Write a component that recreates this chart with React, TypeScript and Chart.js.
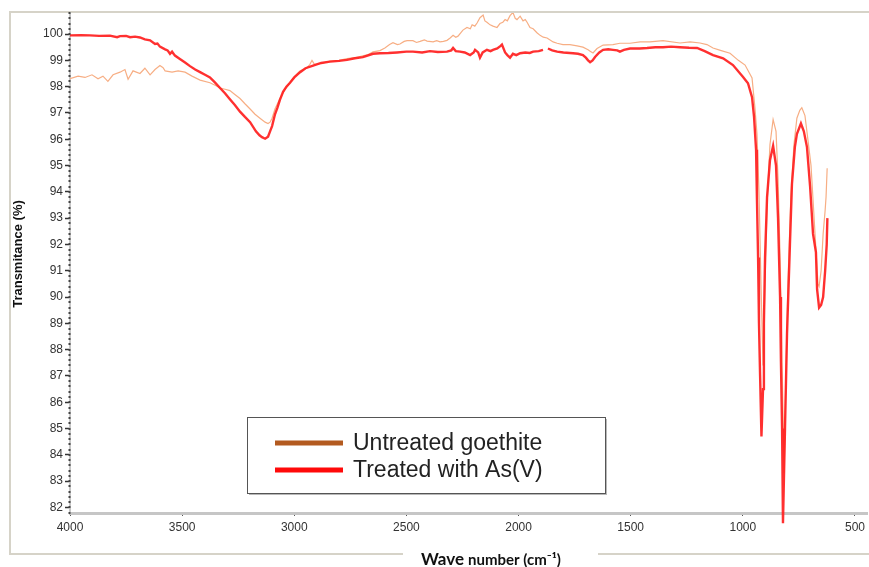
import React, { useEffect, useRef } from "react";
import { Chart, registerables } from "chart.js";

Chart.register(...registerables);

const xTicks = [4000, 3500, 3000, 2500, 2000, 1500, 1000, 500];
const yTicks = [82, 83, 84, 85, 86, 87, 88, 89, 90, 91, 92, 93, 94, 95, 96, 97, 98, 99, 100];
const seriesLabels = ["Untreated goethite", "Treated with As(V)"];
const xTitleMain = "Wave";
const xTitleRest = "number (cm⁻¹)";
const yTitle = "Transmitance (%)";

const untreatedWn = [
  4000, 3964, 3933, 3902, 3875, 3853, 3831, 3808, 3777, 3755, 3741, 3719, 3688, 3666, 3643, 3621, 3599, 3585,
  3576, 3545, 3518, 3487, 3456, 3420, 3376, 3353, 3331, 3309, 3287, 3265, 3242, 3220, 3197, 3175, 3153, 3130,
  3117, 3108, 3099, 3086, 3064, 3041, 3019, 2997, 2974, 2945, 2930, 2921, 2910, 2885, 2841, 2800, 2765, 2730,
  2694, 2670, 2649, 2618, 2596, 2575, 2560, 2540, 2529, 2510, 2497, 2471, 2455, 2439, 2420, 2408, 2381, 2365,
  2350, 2335, 2319, 2305, 2292, 2280, 2270, 2248, 2230, 2215, 2207, 2195, 2185, 2172, 2158, 2150, 2141, 2127,
  2114, 2096, 2083, 2070, 2060, 2050, 2038, 2025, 2015, 2007, 1993, 1980, 1970, 1962, 1949, 1935, 1918, 1904,
  1890, 1873, 1846, 1828, 1802, 1771, 1739, 1713, 1690, 1681, 1668, 1650, 1623, 1579, 1548, 1503, 1458, 1414,
  1356, 1280, 1235, 1191, 1160, 1133, 1100, 1057, 1020, 990, 959, 946, 937, 928, 919, 910, 901, 892, 879, 865,
  852, 843, 834, 825, 816, 808, 799, 786, 772, 759, 746, 737, 723, 710, 696, 687, 674, 665, 660, 651, 642, 633,
  629, 624,
];
const untreatedT = [
  98.3, 98.4, 98.35, 98.45, 98.3, 98.4, 98.2, 98.45, 98.55, 98.65, 98.28, 98.6, 98.5, 98.7, 98.45, 98.65, 98.8, 98.72,
  98.6, 98.55, 98.6, 98.55, 98.4, 98.25, 98.15, 98.05, 97.95, 97.9, 97.85, 97.7, 97.55, 97.35, 97.15, 96.95, 96.8, 96.65,
  96.6, 96.65, 96.8, 97.15, 97.55, 97.9, 98.15, 98.4, 98.6, 98.7, 98.85, 99.0, 98.85, 98.87, 98.97, 99.0, 99.07, 99.1,
  99.17, 99.22, 99.32, 99.37, 99.47, 99.6, 99.67, 99.6, 99.62, 99.72, 99.75, 99.75, 99.68, 99.72, 99.78, 99.73, 99.7, 99.75,
  99.7, 99.72, 99.76, 99.85, 99.95, 99.88, 99.92, 100.15, 100.25, 100.2, 100.35, 100.3, 100.42, 100.62, 100.72, 100.5, 100.45, 100.35,
  100.3, 100.25, 100.4, 100.45, 100.55, 100.5, 100.7, 100.82, 100.6, 100.55, 100.68, 100.5, 100.55, 100.45, 100.25, 100.2, 100.05, 99.95,
  99.88, 99.85, 99.7, 99.65, 99.6, 99.6, 99.55, 99.5, 99.4, 99.35, 99.28, 99.45, 99.58, 99.6, 99.65, 99.65, 99.7, 99.7,
  99.75, 99.66, 99.7, 99.66, 99.6, 99.47, 99.38, 99.27, 99.0, 98.82, 98.33, 97.2, 96.2, 94.0, 90.5, 87.4, 90.5, 93.5, 95.8, 96.75,
  96.3, 94.5, 91.5, 87.5, 83.3, 87.0, 90.5, 93.8, 95.8, 96.8, 97.1, 97.2, 96.9, 96.0, 95.0, 93.7, 91.8, 90.5, 90.4, 91.0, 92.4, 93.3,
  93.8, 94.9,
];

const treatedWn = [
  4000, 3950, 3911, 3870, 3822, 3790, 3777, 3750, 3732, 3710, 3688, 3666, 3643, 3621, 3610, 3599, 3576, 3565,
  3554, 3545, 3532, 3510, 3487, 3465, 3442, 3420, 3398, 3376, 3353, 3331, 3309, 3287, 3265, 3242, 3220, 3197,
  3171, 3155, 3144, 3130, 3117, 3108, 3099, 3086, 3075, 3064, 3050, 3035, 3019, 3000, 2974, 2950, 2916, 2880,
  2841, 2800, 2765, 2730, 2694, 2649, 2618, 2580, 2542, 2500, 2471, 2430, 2395, 2360, 2319, 2300, 2292, 2280,
  2261, 2240, 2216, 2200, 2194, 2180, 2172, 2160, 2141, 2125, 2114, 2095, 2080, 2074, 2060, 2050, 2038, 2025,
  2010, 1993, 1970, 1950, 1935, 1910, 1891, 1880, 1869, 1850, 1828, 1800, 1757, 1735, 1713, 1700, 1690, 1681,
  1670, 1659, 1640, 1623, 1600, 1579, 1560, 1548, 1530, 1503, 1460, 1427, 1390, 1356, 1320, 1280, 1240, 1204,
  1170, 1133, 1088, 1044, 999, 977, 959, 950, 941, 937, 932, 928, 923, 917, 910, 906, 901, 892, 879, 865,
  852, 843, 834, 830, 825, 821, 812, 803, 790, 781, 768, 759, 741, 728, 714, 700, 687, 674, 669, 660,
  651, 642, 633, 626, 623,
];
const treatedT = [
  99.95, 99.96, 99.95, 99.93, 99.94, 99.88, 99.92, 99.93, 99.88, 99.9, 99.87, 99.8, 99.76, 99.62, 99.64, 99.52, 99.42, 99.38,
  99.25, 99.33, 99.18, 99.05, 98.92, 98.78, 98.65, 98.55, 98.45, 98.35, 98.15, 97.95, 97.75, 97.52, 97.3, 97.05, 96.85, 96.65,
  96.3, 96.15, 96.08, 96.02, 96.1, 96.3, 96.5, 96.95, 97.2, 97.5, 97.8, 98.0, 98.15, 98.35, 98.55, 98.7, 98.8, 98.9,
  98.95, 98.98, 99.02, 99.08, 99.12, 99.25, 99.27, 99.28, 99.3, 99.33, 99.33, 99.3, 99.35, 99.32, 99.33, 99.38, 99.47, 99.35,
  99.33, 99.3, 99.2, 99.3, 99.4, 99.3, 99.1, 99.3, 99.4, 99.35, 99.4, 99.45, 99.55, 99.6, 99.3, 99.2, 99.1, 99.25,
  99.2, 99.27, 99.3, 99.28, 99.33, 99.35, 99.4, null, 99.45, 99.38, 99.33, 99.3, 99.27, 99.25, 99.2, 99.1, 99.0, 98.93,
  99.0, 99.13, 99.3, 99.4, 99.42, 99.4, 99.38, 99.33, 99.4, 99.45, 99.45, 99.47, 99.5, 99.5, 99.52, 99.5, 99.48, 99.47,
  99.35, 99.2, 99.08, 98.82, 98.37, 98.13, 97.6, 96.85, 95.6, 93.7, 91.5, 89.0, 87.0, 84.7, 86.5, 89.0, 91.5, 93.8, 95.2, 95.75,
  95.0, 93.0, 90.0, 87.5, 85.0, 81.4, 85.0, 88.6, 92.0, 94.3, 95.7, 96.2, 96.6, 96.3, 95.7, 94.2, 92.4, 91.7, 90.3, 89.6,
  89.7, 90.0, 91.0, 92.0, 93.0,
];

const legendColors = ["#b35a1f", "#ff0a0a"];
const FONT = "'Liberation Sans', Arial, sans-serif";

const decoPlugin = {
  id: "deco",
  beforeDraw(chart: any) {
    const ctx = chart.ctx;
    const W = chart.width;
    const H = chart.height;
    ctx.save();
    ctx.fillStyle = "#ffffff";
    ctx.fillRect(0, 0, W, H);
    ctx.strokeStyle = "#d6d3c8";
    ctx.lineWidth = 2;
    ctx.beginPath();
    ctx.moveTo(W, 12);
    ctx.lineTo(10, 12);
    ctx.lineTo(10, 554);
    ctx.lineTo(403, 554);
    ctx.moveTo(598, 554);
    ctx.lineTo(W, 554);
    ctx.stroke();
    ctx.restore();
  },
  afterDraw(chart: any) {
    const ctx = chart.ctx;
    const ys = chart.scales.y;
    const area = chart.chartArea;
    ctx.save();
    // minor dots on y axis
    ctx.fillStyle = "#444";
    for (let i = Math.ceil(ys.min * 5); i <= Math.floor(ys.max * 5); i++) {
      const py = ys.getPixelForValue(i / 5);
      ctx.fillRect(area.left - 1.5, Math.round(py) - 1, 2, 2);
    }
    // y title
    ctx.fillStyle = "#111";
    ctx.font = `bold 13px ${FONT}`;
    ctx.textAlign = "center";
    ctx.textBaseline = "middle";
    ctx.translate(18, 254);
    ctx.rotate(-Math.PI / 2);
    ctx.fillText(yTitle, 0, 0);
    ctx.setTransform(1, 0, 0, 1, 0, 0);
    // x title
    ctx.textAlign = "left";
    ctx.textBaseline = "alphabetic";
    ctx.font = `bold 17px Lato, ${FONT}`;
    const w1 = ctx.measureText(xTitleMain).width;
    ctx.fillText(xTitleMain, 421, 565);
    ctx.font = `bold 15px Lato, ${FONT}`;
    ctx.fillText(xTitleRest, 421 + w1 + 4, 565);
    // legend
    const bx = 247, by = 417, bw = 358, bh = 76;
    ctx.fillStyle = "#b8b8b8";
    ctx.fillRect(bx + 2, by + 2, bw, bh);
    ctx.fillStyle = "#ffffff";
    ctx.fillRect(bx, by, bw, bh);
    ctx.strokeStyle = "#555";
    ctx.lineWidth = 1;
    ctx.strokeRect(bx + 0.5, by + 0.5, bw, bh);
    ctx.font = `23px ${FONT}`;
    ctx.textBaseline = "middle";
    const rows = [443, 470];
    seriesLabels.forEach((lab, i) => {
      ctx.strokeStyle = legendColors[i];
      ctx.lineWidth = 5;
      ctx.beginPath();
      ctx.moveTo(275, rows[i]);
      ctx.lineTo(343, rows[i]);
      ctx.stroke();
      ctx.fillStyle = "#222";
      ctx.fillText(lab, 353, rows[i] + 1);
    });
    ctx.restore();
  },
};

export default function App() {
  const ref = useRef<HTMLCanvasElement | null>(null);
  useEffect(() => {
    document.body.style.margin = "0";
    const canvas = ref.current;
    if (!canvas) return;
    const untreatedData = untreatedWn.map((x, i) => ({ x, y: untreatedT[i] }));
    const treatedData = treatedWn.map((x, i) => ({ x, y: treatedT[i] }));
    const chart = new Chart(canvas, {
      type: "line",
      data: {
        datasets: [
          {
            label: seriesLabels[0],
            data: untreatedData,
            borderColor: "#f7ae84",
            borderWidth: 1.2,
            pointRadius: 0,
            tension: 0,
            order: 1,
          },
          {
            label: seriesLabels[1],
            data: treatedData as any,
            borderColor: "rgba(255,30,30,0.92)",
            borderWidth: 2.4,
            pointRadius: 0,
            tension: 0,
            spanGaps: false,
            clip: false as any,
            order: 0,
          },
        ],
      },
      options: {
        responsive: false,
        animation: false,
        layout: { padding: { top: 13, left: 0, right: 1, bottom: 0 } },
        plugins: { legend: { display: false }, tooltip: { enabled: false } },
        scales: {
          x: {
            type: "linear",
            reverse: true,
            min: 442,
            max: 4000,
            afterBuildTicks: (s: any) => {
              s.ticks = xTicks.map((v) => ({ value: v }));
            },
            afterFit: (s: any) => {
              s.height = 54;
            },
            ticks: {
              font: { family: FONT, size: 12 },
              color: "#333",
              padding: 4,
              maxRotation: 0,
              callback: (v: any) => String(v),
            },
            grid: { drawOnChartArea: false, tickLength: 3, tickColor: "#555", tickWidth: 1 },
            border: { color: "#c6c6c6", width: 3 },
          },
          y: {
            type: "linear",
            min: 81.79,
            max: 100.8,
            afterBuildTicks: (s: any) => {
              s.ticks = yTicks.map((v) => ({ value: v }));
            },
            afterFit: (s: any) => {
              s.width = 70;
            },
            ticks: {
              font: { family: FONT, size: 12 },
              color: "#333",
              padding: 2,
              callback: (v: any) => String(v),
            },
            grid: { drawOnChartArea: false, tickLength: 5, tickColor: "#333", tickWidth: 1.5 },
            border: { color: "#c6c6c6", width: 2 },
          },
        },
      },
      plugins: [decoPlugin],
    });
    return () => chart.destroy();
  }, []);
  return <canvas ref={ref} width={869} height={567} style={{ display: "block" }} />;
}
